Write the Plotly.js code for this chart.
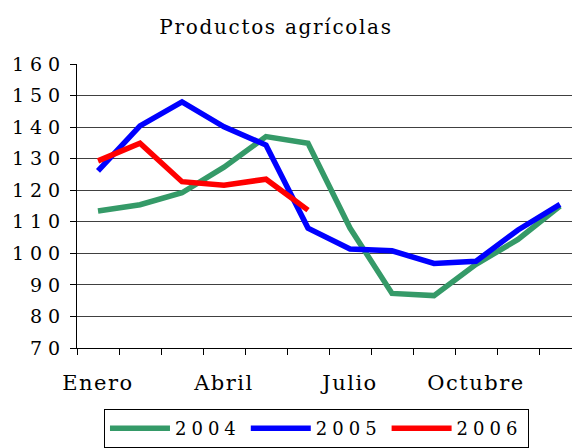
<!DOCTYPE html>
<html>
<head>
<meta charset="utf-8">
<script src="https://cdn.plot.ly/plotly-3.0.1.min.js"></script>
<style>
html,body{margin:0;padding:0;background:#fff;}
#chart{width:572px;height:448px;}
.xtick text{letter-spacing:1.5px;}
.ytick text{letter-spacing:6px;}
.gtitle{letter-spacing:1.7px;}
.legendtext{letter-spacing:5px;}
</style>
</head>
<body>
<div id="chart"></div>
<script>
const months = ['Enero','Febrero','Marzo','Abril','Mayo','Junio','Julio','Agosto','Septiembre','Octubre','Noviembre','Diciembre'];
const labelMonths = ['Enero','Abril','Julio','Octubre'];
const yTicks = [70,80,90,100,110,120,130,140,150,160];
const s2004 = [113.4,115.4,119.2,127.3,137.0,134.9,108.0,87.3,86.6,96.5,104.4,115.0];
const s2005 = [126.1,140.4,148.0,140.1,134.3,108.0,101.4,100.8,96.8,97.5,107.4,115.5];
const s2006 = [129.3,134.9,122.7,121.6,123.5,113.7];

const idx = months.map((m,i)=>i);
const labelIdx = labelMonths.map(m=>months.indexOf(m));
const bounds = months.map((m,i)=>i-0.5).concat([months.length-0.5]);

const font = "'DejaVu Serif', serif";
function tr(name, vals, color){
  return {x: idx.slice(0, vals.length), y: vals, name: name, type:'scatter', mode:'lines',
    line:{color:color, width:5.5}, hoverinfo:'skip'};
}
const data = [tr('2004', s2004, '#359a68'), tr('2005', s2005, '#0000ff'), tr('2006', s2006, '#ff0000')];
const layout = {
  width:572, height:448,
  margin:{l:77, r:0, t:64, b:100},
  paper_bgcolor:'#fff', plot_bgcolor:'#fff',
  font:{family:font, color:'#000', size:16},
  title:{text:'Productos agrícolas', font:{family:font, size:20, color:'#000'}, x:0.4825, xanchor:'center', y:0.94, yanchor:'middle', xref:'container', yref:'container'},
  xaxis:{range:[-0.5, -0.5 + 495/42], tickmode:'array', tickvals:labelIdx, ticktext:labelMonths,
    ticks:'', showgrid:false, zeroline:false, showline:true, linecolor:'#000', linewidth:1,
    ticklabelstandoff:16, tickfont:{family:font, size:21, color:'#000'},
    minor:{tickmode:'array', tickvals:bounds, ticks:'outside', ticklen:6, tickcolor:'#000', tickwidth:1, showgrid:false}},
  yaxis:{range:[70,160], tickmode:'array', tickvals:yTicks, ticktext:yTicks.map(String),
    ticks:'outside', ticklen:6, tickcolor:'#000', tickwidth:1, showgrid:true, gridcolor:'#404040', gridwidth:1,
    zeroline:false, showline:true, linecolor:'#000', linewidth:1, ticklabelstandoff:0,
    tickfont:{family:font, size:19, color:'#000'}},
  showlegend:true,
  legend:{orientation:'h', x:0.0545, y:-0.215, xanchor:'left', yanchor:'top', bordercolor:'#000', borderwidth:1,
    bgcolor:'#fff', font:{family:font, size:18, color:'#000'}, itemwidth:60, tracegroupgap:0}
};
Plotly.newPlot('chart', data, layout, {displayModeBar:false, staticPlot:true});
</script>
</body>
</html>
